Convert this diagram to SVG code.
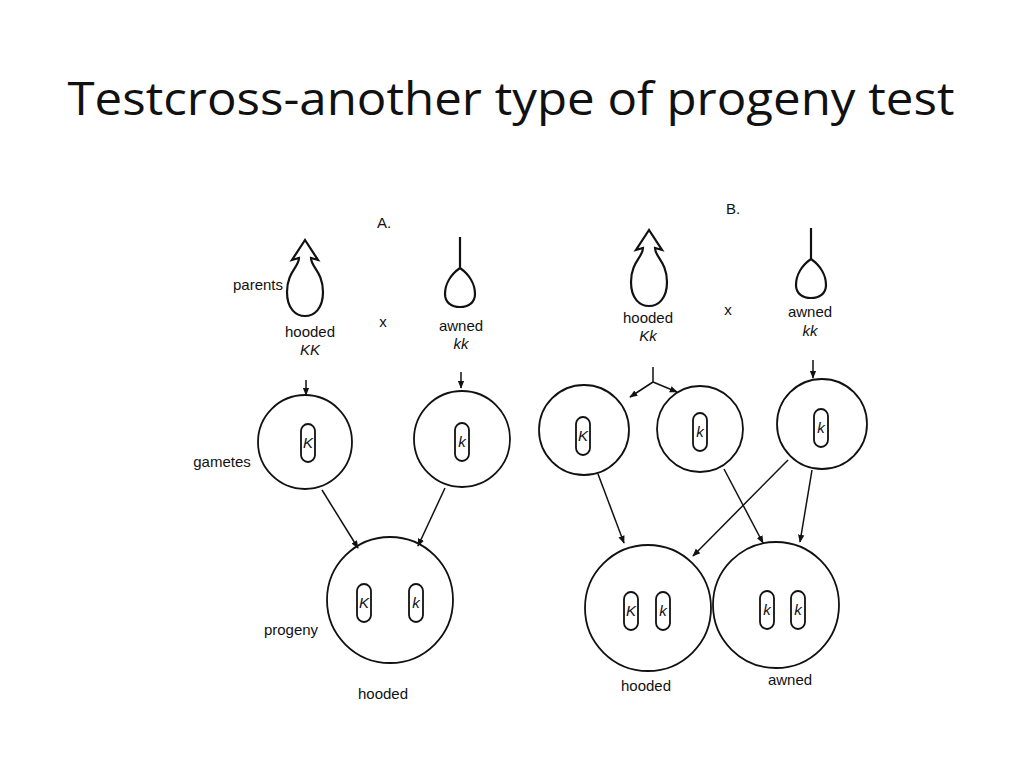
<svg xmlns="http://www.w3.org/2000/svg" width="1024" height="768" viewBox="0 0 1024 768">
<style>
.s{fill:none;stroke:#111;stroke-width:2.2}
.c{fill:#fff;stroke:#111;stroke-width:1.8}
.p{fill:#fff;stroke:#111;stroke-width:1.8}
.t{font-family:"Liberation Sans",Arial,sans-serif;font-size:15px;fill:#111;text-anchor:middle}
.i{font-style:italic}
.ln{stroke:#111;stroke-width:1.5;fill:none;marker-end:url(#ah)}
</style>
<defs>
<marker id="ah" viewBox="0 0 10 10" refX="9" refY="5" markerWidth="8" markerHeight="8" orient="auto" markerUnits="userSpaceOnUse"><path d="M0,1 L10,5 L0,9 Z" fill="#111"/></marker>
<path id="hood" d="M0,0 L-13,20 L-6,18 C-6,27 -18,32 -18,52 C-18,69 -9,76 0,76 C9,76 18,69 18,52 C18,32 6,27 6,18 L13,20 Z" class="s"/>
<path id="awn" d="M0,0 V31 C-10,38 -15,48 -15,57 C-15,66 -8,70 0,70 C8,70 15,66 15,57 C15,48 10,38 0,31" class="s"/>
<rect id="pill" x="-7" y="-19" width="14" height="38" rx="7" class="p"/>
</defs>
<rect width="1024" height="768" fill="#fff"/>
<text x="511" y="115" font-family="'Open Sans','Liberation Sans',sans-serif" font-size="46" text-anchor="middle" textLength="887" lengthAdjust="spacingAndGlyphs" fill="#111">Testcross-another type of progeny test</text>

<g id="panelA-labels">
<text class="t" x="384" y="228">A.</text>
<text class="t" x="258" y="290">parents</text>
<text class="t" x="310" y="337">hooded</text>
<text class="t i" x="310" y="355">KK</text>
<text class="t" x="383" y="327" font-size="10">x</text>
<text class="t" x="461" y="331">awned</text>
<text class="t i" x="461" y="349">kk</text>
<text class="t" x="222" y="467">gametes</text>
<text class="t" x="291" y="635">progeny</text>
<text class="t" x="383" y="699">hooded</text>
</g>
<g id="parentA1"><use href="#hood" x="305" y="240"/></g>
<g id="parentA2"><use href="#awn" x="460" y="237"/></g>
<g id="gameteA1"><circle class="c" cx="305" cy="442" r="47"/><use href="#pill" x="308" y="443"/><text class="t i" x="308" y="448">K</text></g>
<g id="gameteA2"><circle class="c" cx="462" cy="439" r="48"/><use href="#pill" x="462" y="442"/><text class="t i" x="462" y="447">k</text></g>
<g id="progenyA"><circle class="c" cx="390" cy="600" r="63"/><use href="#pill" x="364" y="603"/><text class="t i" x="364" y="608">K</text><use href="#pill" x="416" y="603"/><text class="t i" x="416" y="608">k</text></g>

<g id="panelB-labels">
<text class="t" x="733" y="214">B.</text>
<text class="t" x="648" y="323">hooded</text>
<text class="t i" x="648" y="341">Kk</text>
<text class="t" x="728" y="315" font-size="10">x</text>
<text class="t" x="810" y="317">awned</text>
<text class="t i" x="810" y="336">kk</text>
<text class="t" x="646" y="691">hooded</text>
<text class="t" x="790" y="685">awned</text>
</g>
<g id="parentB1"><use href="#hood" x="649" y="230"/></g>
<g id="parentB2"><use href="#awn" x="811" y="228"/></g>
<g id="gameteB1"><circle class="c" cx="584" cy="430" r="45"/><use href="#pill" x="583" y="436"/><text class="t i" x="583" y="441">K</text></g>
<g id="gameteB2"><circle class="c" cx="700" cy="429" r="43"/><use href="#pill" x="700" y="432"/><text class="t i" x="700" y="437">k</text></g>
<g id="gameteB3"><circle class="c" cx="822" cy="424" r="45"/><use href="#pill" x="821" y="428"/><text class="t i" x="821" y="433">k</text></g>
<g id="progenyB1"><circle class="c" cx="648" cy="608" r="63"/><use href="#pill" x="631" y="611"/><text class="t i" x="631" y="616">K</text><use href="#pill" x="663" y="611"/><text class="t i" x="663" y="616">k</text></g>
<g id="progenyB2"><circle class="c" cx="776" cy="605" r="63"/><use href="#pill" x="767" y="610"/><text class="t i" x="767" y="615">k</text><use href="#pill" x="798" y="610"/><text class="t i" x="798" y="615">k</text></g>

<g id="connectors">
<line class="ln" x1="306" y1="380" x2="306" y2="395"/>
<line class="ln" x1="461" y1="372" x2="461" y2="388"/>
<line class="ln" x1="322" y1="490" x2="358" y2="548"/>
<line class="ln" x1="445" y1="488" x2="418" y2="546"/>
<path d="M653,367 V382" fill="none" stroke="#111" stroke-width="1.5"/>
<line class="ln" x1="653" y1="382" x2="630" y2="397"/>
<line class="ln" x1="653" y1="382" x2="677" y2="392"/>
<line class="ln" x1="813" y1="360" x2="813" y2="378"/>
<line class="ln" x1="598" y1="474" x2="624" y2="543"/>
<line class="ln" x1="724" y1="469" x2="763" y2="543"/>
<line class="ln" x1="788" y1="460" x2="693" y2="556"/>
<line class="ln" x1="812" y1="470" x2="800" y2="542"/>
</g>
</svg>
